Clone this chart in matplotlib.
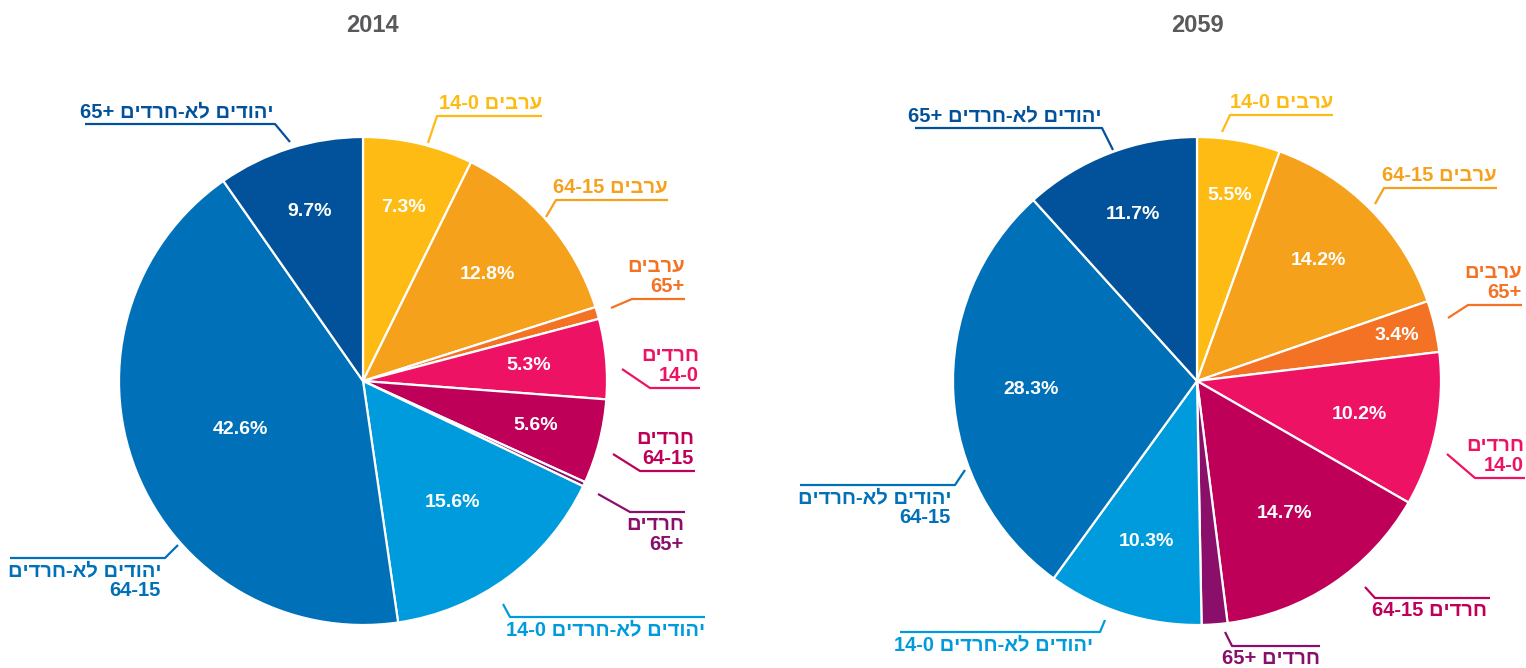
import re
import numpy as np
from matplotlib import pyplot as plt

# data
groups = ["ערבים 0-14", "ערבים 15-64", "ערבים\n+65",
          "חרדים\n0-14", "חרדים\n15-64", "חרדים\n+65",
          "יהודים לא-חרדים 0-14", "יהודים לא-חרדים\n15-64", "יהודים לא-חרדים +65"]
labels_2059 = ["ערבים 0-14", "ערבים 15-64", "ערבים\n+65",
               "חרדים\n0-14", "חרדים 15-64", "חרדים +65",
               "יהודים לא-חרדים 0-14", "יהודים לא-חרדים\n15-64", "יהודים לא-חרדים +65"]
share_2014 = [7.3, 12.8, 0.8, 5.3, 5.6, 0.3, 15.6, 42.6, 9.7]
share_2059 = [5.5, 14.2, 3.4, 10.2, 14.7, 1.7, 10.3, 28.3, 11.7]
colors = ["#FDBB14", "#F6A11C", "#F37224", "#ED1263", "#BE0058",
          "#8A0F6A", "#009BDD", "#0070B8", "#01529A"]

W, H = 1526, 668
R = 244

def rtl(s):
    # matplotlib has no bidi, so flip to visual order and keep numbers readable
    out = []
    for line in s.split("\n"):
        v = line[::-1]
        v = re.sub(r"\d+", lambda m: m.group(0)[::-1], v)
        out.append(v)
    return "\n".join(out)

FONT = ["Liberation Sans", "DejaVu Sans"]
plt.rcParams["font.family"] = FONT

fig = plt.figure(figsize=(W / 100, H / 100), dpi=100)
ax = fig.add_axes([0, 0, 1, 1])

# layout per pie: (center, pct radius fractions, leader polylines, text spec)
layout = {
    "2014": dict(
        center=(363, 381), title_x=372,
        frac=[0.73, 0.67, None, 0.68, 0.73, None, 0.62, 0.54, 0.73],
        lead=[[(428, 143), (437, 116), (542, 116)],
              [(546, 217), (556, 200), (668, 200)],
              [(611, 308), (632, 299), (685, 299)],
              [(622, 369), (650, 388), (700, 388)],
              [(613, 454), (640, 471), (695, 471)],
              [(598, 494), (630, 512), (685, 512)],
              [(503, 604), (510, 617), (705, 617)],
              [(178, 545), (165, 558), (10, 558)],
              [(290, 142), (275, 124), (85, 124)]],
        text=[(542, 113, "bottom"), (668, 197, "bottom"), (685, 296, "bottom"),
              (699, 385, "bottom"), (694, 468, "bottom"), (684, 515, "top"),
              (705, 620, "top"), (161, 561, "top"), (273, 121, "bottom")]),
    "2059": dict(
        center=(1197, 381), title_x=1197,
        frac=[0.77, 0.70, 0.84, 0.68, 0.65, None, 0.69, 0.68, 0.73],
        lead=[[(1222, 132), (1230, 115), (1333, 115)],
              [(1375, 204), (1384, 188), (1497, 188)],
              [(1448, 318), (1468, 305), (1522, 305)],
              [(1447, 454), (1475, 478), (1525, 478)],
              [(1365, 587), (1375, 598), (1490, 598)],
              [(1225, 632), (1232, 646), (1320, 646)],
              [(1105, 620), (1100, 632), (900, 632)],
              [(965, 470), (955, 485), (800, 485)],
              [(1113, 150), (1102, 128), (915, 128)]],
        text=[(1333, 112, "bottom"), (1497, 185, "bottom"), (1522, 302, "bottom"),
              (1524, 475, "bottom"), (1487, 601, "top"), (1320, 649, "top"),
              (1093, 635, "top"), (951, 488, "top"), (1102, 125, "bottom")]),
}

for year, shares, labels in [("2014", share_2014, groups), ("2059", share_2059, labels_2059)]:
    lay = layout[year]
    cx, cy = lay["center"]
    wedges, _ = ax.pie(shares, colors=colors, startangle=-90, counterclock=True,
                       center=(cx, cy), radius=R,
                       wedgeprops=dict(edgecolor="white", linewidth=1.6))
    for w, val, f in zip(wedges, shares, lay["frac"]):
        if f is None:
            continue
        a = np.deg2rad((w.theta1 + w.theta2) / 2)
        ax.text(cx + f * R * np.cos(a), cy + f * R * np.sin(a), f"{val}%",
                ha="center", va="center", color="white", fontsize=14,
                fontweight="bold")
    for lab, col, pts, (tx, ty, va) in zip(labels, colors, lay["lead"], lay["text"]):
        xs, ys = zip(*pts)
        ax.plot(xs, ys, color=col, lw=1.6, solid_capstyle="butt")
        ax.text(tx, ty, rtl(lab), ha="right", va=va, color=col, fontsize=14.5,
                fontweight="bold", multialignment="right", linespacing=1.05)
    ax.text(lay["title_x"], 25, year, ha="center", va="center", color="#58595B",
            fontsize=17, fontweight="bold")

ax.set_xlim(0, W)
ax.set_ylim(H, 0)
ax.set_aspect("equal")
ax.axis("off")

fig.savefig("out.png", dpi=100, facecolor="white")
